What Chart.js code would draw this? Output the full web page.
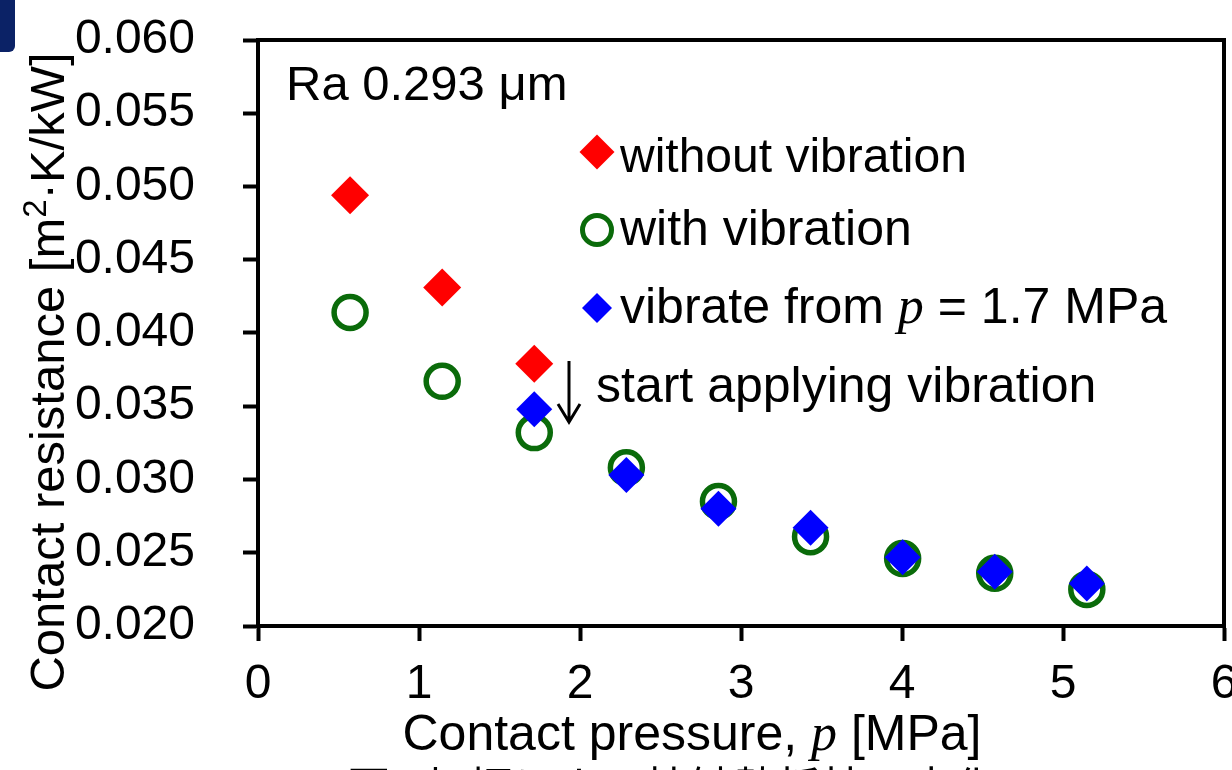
<!DOCTYPE html>
<html>
<head>
<meta charset="utf-8">
<script src="https://cdn.jsdelivr.net/npm/chart.js@4.4.1/dist/chart.umd.min.js"></script>
<style>
html, body { margin: 0; padding: 0; background: #fff; }
#wrap { position: relative; width: 1232px; height: 770px; overflow: hidden; }
#tab { position: absolute; left: 0; top: 0; width: 15px; height: 52px; background: #0b2266; border-radius: 0 0 6px 0; }
</style>
</head>
<body>
<div id="wrap">
  <canvas id="chart" width="1232" height="770"></canvas>
  <div id="tab"></div>
</div>
<script>
// contact pressure [MPa] for each loading step
var pressure = [0.572, 1.144, 1.716, 2.288, 2.86, 3.432, 4.004, 4.576, 5.148];

// contact resistance [m2·K/kW]
var withoutVibration = [0.0494, 0.0431, 0.0379];
var withVibration = [0.0414, 0.0367, 0.0332, 0.0308, 0.0285, 0.0261, 0.0246, 0.0236, 0.0225];
var vibrateFrom17 = [0.0348, 0.0303, 0.0280, 0.0267, 0.0247, 0.0237, 0.0229]; // from p = 1.7 MPa on

var xTicks = [0, 1, 2, 3, 4, 5, 6];
var yTicks = [0.020, 0.025, 0.030, 0.035, 0.040, 0.045, 0.050, 0.055, 0.060];

var SANS = '"Liberation Sans", Arial, sans-serif';
var SERIF = '"Liberation Serif", "Times New Roman", serif';

function toPoints(xs, ys) {
    return ys.map(function (y, i) { return { x: xs[i], y: y }; });
}

var RED = '#ff0000';
var GREEN = '#0a6b0a';
var BLUE = '#0000ff';

// draws a line of text made of runs with different fonts
function drawRuns(ctx, runs, x, baseline, align) {
    var total = 0;
    runs.forEach(function (r) {
        ctx.font = r.font;
        r.w = ctx.measureText(r.text).width;
        total += r.w;
    });
    if (align === 'center') x -= total / 2;
    runs.forEach(function (r) {
        ctx.font = r.font;
        ctx.fillText(r.text, x, baseline + (r.dy || 0));
        x += r.w;
    });
}

function diamond(ctx, x, y, r, color) {
    ctx.beginPath();
    ctx.moveTo(x - r, y);
    ctx.lineTo(x, y - r);
    ctx.lineTo(x + r, y);
    ctx.lineTo(x, y + r);
    ctx.closePath();
    ctx.fillStyle = color;
    ctx.fill();
}

var decorations = {
    id: 'decorations',
    afterDraw: function (chart) {
        var ctx = chart.ctx;
        var a = chart.chartArea;
        ctx.save();

        // plot frame
        ctx.strokeStyle = '#000';
        ctx.lineWidth = 4;
        ctx.strokeRect(a.left, a.top, a.right - a.left, a.bottom - a.top);

        ctx.fillStyle = '#000';
        ctx.textAlign = 'left';
        ctx.textBaseline = 'alphabetic';

        // sample label
        ctx.font = '49px ' + SANS;
        ctx.fillText('Ra 0.293 \u03bcm', 286, 100);

        // legend
        diamond(ctx, 597, 152, 17.5, RED);
        ctx.beginPath();
        ctx.arc(597, 230, 14.5, 0, Math.PI * 2);
        ctx.strokeStyle = GREEN;
        ctx.lineWidth = 5;
        ctx.stroke();
        diamond(ctx, 597, 308, 15, BLUE);

        ctx.fillStyle = '#000';
        ctx.font = '48px ' + SANS;
        ctx.fillText('without vibration', 620, 172);
        ctx.font = '50px ' + SANS;
        ctx.fillText('with vibration', 620, 245);
        drawRuns(ctx, [
            { text: 'vibrate from ', font: '50px ' + SANS },
            { text: 'p', font: 'italic 52px ' + SERIF },
            { text: ' = 1.7 MPa', font: '50px ' + SANS }
        ], 620, 323, 'left');

        // arrow + note
        ctx.strokeStyle = '#000';
        ctx.lineWidth = 3;
        ctx.beginPath();
        ctx.moveTo(569, 361);
        ctx.lineTo(569, 421);
        ctx.moveTo(558, 404);
        ctx.lineTo(569, 422);
        ctx.lineTo(580, 404);
        ctx.stroke();
        ctx.font = '50px ' + SANS;
        ctx.fillText('start applying vibration', 596, 402);

        // axis titles
        drawRuns(ctx, [
            { text: 'Contact pressure, ', font: '50px ' + SANS },
            { text: 'p', font: 'italic 52px ' + SERIF },
            { text: ' [MPa]', font: '50px ' + SANS }
        ], 692, 750, 'center');

        ctx.save();
        ctx.translate(64, 372);
        ctx.rotate(-Math.PI / 2);
        drawRuns(ctx, [
            { text: 'Contact resistance [m', font: '49px ' + SANS },
            { text: '2', font: '33px ' + SANS, dy: -18 },
            { text: '\u00b7K/kW]', font: '49px ' + SANS }
        ], 0, 0, 'center');
        ctx.restore();

        // figure caption, cut off by the picture edge
        ctx.textAlign = 'center';
        ctx.font = '44px "Noto Sans CJK JP", sans-serif';
        ctx.fillText('\u56f31 \u52a0\u632f\u306b\u3088\u308b\u63a5\u89e6\u71b1\u62b5\u6297\u306e\u5909\u5316', 672, 804);

        ctx.restore();
    }
};

var ctx = document.querySelector('#chart').getContext('2d');
var chart = new Chart(ctx, {
    type: 'scatter',
    data: {
        datasets: [{
            label: 'vibrate from p = 1.7 MPa',
            data: toPoints(pressure.slice(2), vibrateFrom17),
            pointStyle: 'rectRot',
            pointRadius: 18,
            pointBorderWidth: 0,
            backgroundColor: BLUE,
            borderColor: BLUE,
            order: 0
        }, {
            label: 'without vibration',
            data: toPoints(pressure, withoutVibration),
            pointStyle: 'rectRot',
            pointRadius: 19,
            pointBorderWidth: 0,
            backgroundColor: RED,
            borderColor: RED,
            order: 1
        }, {
            label: 'with vibration',
            data: toPoints(pressure, withVibration),
            pointStyle: 'circle',
            pointRadius: 16,
            pointBorderWidth: 5.5,
            backgroundColor: 'rgba(0,0,0,0)',
            borderColor: GREEN,
            order: 2
        }]
    },
    options: {
        responsive: false,
        animation: false,
        devicePixelRatio: 1,
        events: [],
        layout: { autoPadding: false, padding: { top: 40, right: 8, left: 0, bottom: 0 } },
        plugins: {
            legend: { display: false },
            tooltip: { enabled: false }
        },
        scales: {
            x: {
                type: 'linear',
                min: 0,
                max: 6,
                afterBuildTicks: function (scale) {
                    scale.ticks = xTicks.map(function (v) { return { value: v }; });
                },
                afterFit: function (scale) {
                    scale.height = 144;
                    scale.paddingLeft = 0;
                    scale.paddingRight = 0;
                },
                ticks: {
                    color: '#000',
                    padding: 15,
                    maxRotation: 0,
                    font: { family: SANS, size: 48 },
                    callback: function (v) { return v; }
                },
                grid: { drawOnChartArea: false, drawTicks: true, tickLength: 15, tickWidth: 4, tickColor: '#000' },
                border: { display: true, color: '#000', width: 4 }
            },
            y: {
                min: 0.02,
                max: 0.06,
                afterBuildTicks: function (scale) {
                    scale.ticks = yTicks.map(function (v) { return { value: v }; });
                },
                afterFit: function (scale) {
                    scale.width = 258;
                    scale.paddingTop = 0;
                    scale.paddingBottom = 0;
                },
                ticks: {
                    color: '#000',
                    padding: 48,
                    font: { family: SANS, size: 48 },
                    callback: function (v) { return v.toFixed(3); }
                },
                grid: { drawOnChartArea: false, drawTicks: true, tickLength: 15, tickWidth: 4, tickColor: '#000' },
                border: { display: true, color: '#000', width: 4 }
            }
        }
    },
    plugins: [decorations]
});
</script>
</body>
</html>
